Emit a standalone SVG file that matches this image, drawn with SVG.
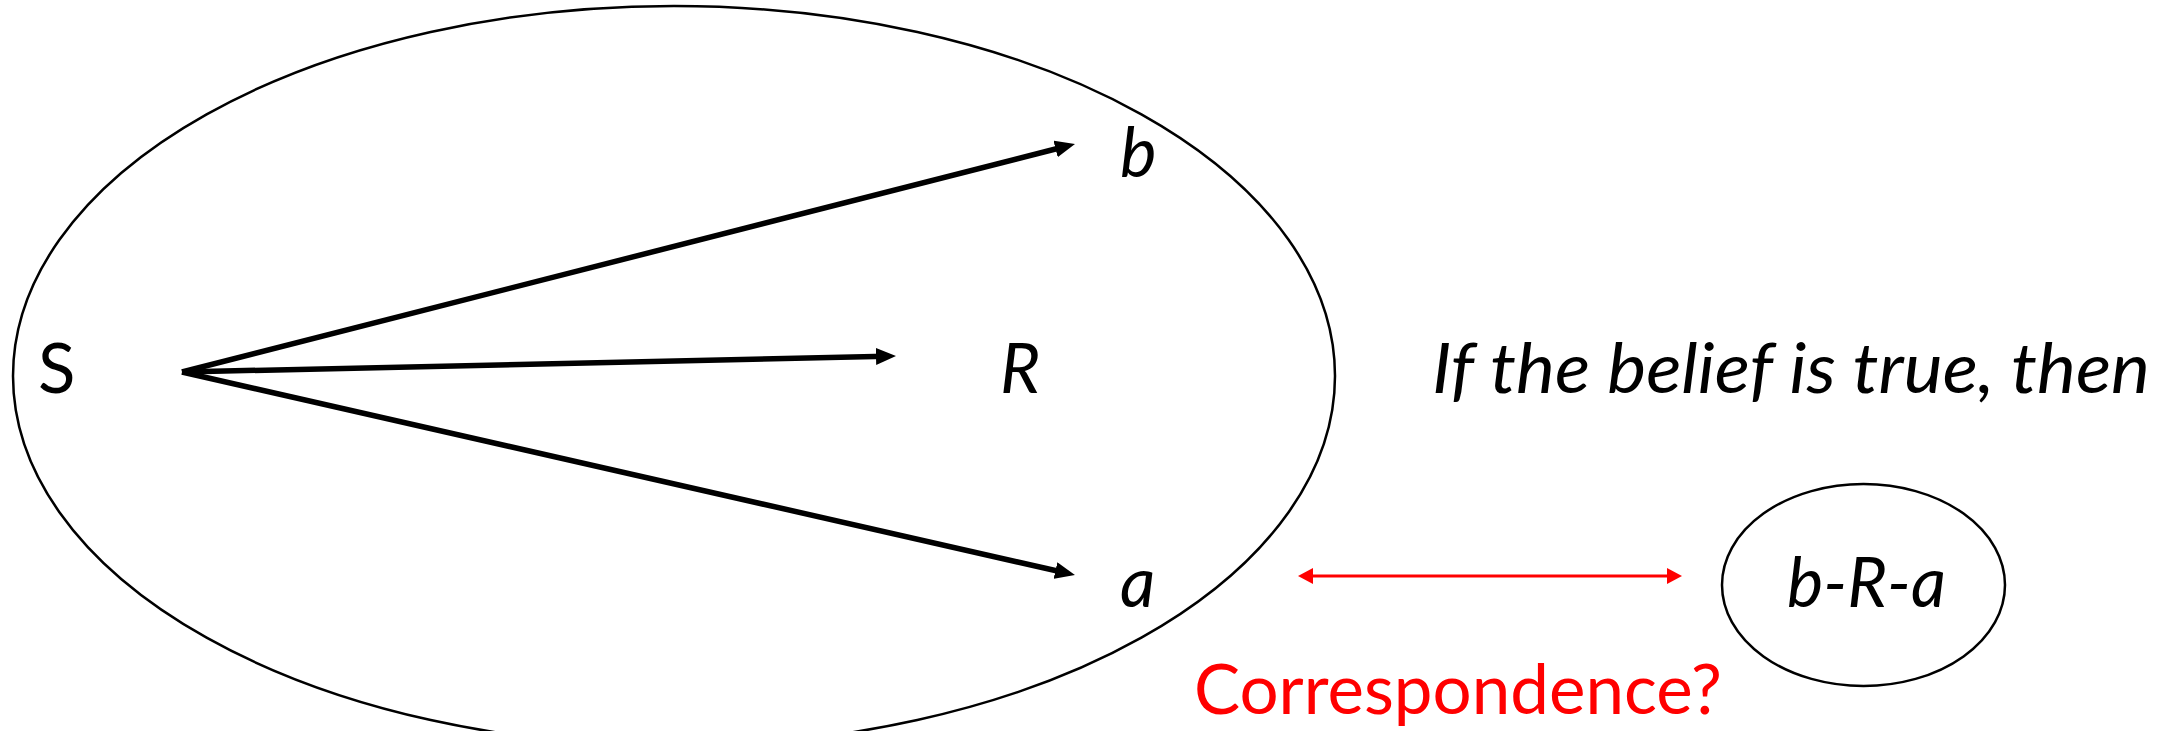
<svg xmlns="http://www.w3.org/2000/svg" width="2179" height="731" viewBox="0 0 2179 731">
<style>
.lbl{font-family:Lato,"Open Sans","Liberation Sans",sans-serif;font-size:69px;fill:#000}
.it{font-style:italic}
.red{fill:#FF0000}
.shape{fill:none;stroke:#000;stroke-width:2.5}
.arr{stroke:#000;stroke-width:5.5;fill:none}
.rarr{stroke:#FF0000;stroke-width:3;fill:none}
</style>
<defs>
<marker id="ah" markerUnits="userSpaceOnUse" markerWidth="20" markerHeight="17" refX="10" refY="8.5" orient="auto">
<path d="M0,0 L20,8.5 L0,17 z" fill="#000"/>
</marker>
<marker id="rh" markerUnits="userSpaceOnUse" markerWidth="15" markerHeight="16" refX="5" refY="8" orient="auto-start-reverse">
<path d="M0,0 L15,8 L0,16 z" fill="#FF0000"/>
</marker>
</defs>
<rect width="2179" height="731" fill="#fff"/>
<g id="belief">
<ellipse class="shape" cx="674" cy="376" rx="661" ry="370"/>
</g>
<g id="S"><text class="lbl" x="38" y="393">S</text></g>
<g id="b"><text class="lbl it" x="1120" y="177">b</text></g>
<g id="R"><text class="lbl it" x="1000" y="393">R</text></g>
<g id="a"><text class="lbl it" x="1120" y="607">a</text></g>
<g id="fact">
<ellipse class="shape" cx="1863.5" cy="585" rx="141.5" ry="101"/>
<text class="lbl it" x="1787" y="607" textLength="159" lengthAdjust="spacingAndGlyphs">b-R-a</text>
</g>
<g id="caption"><text class="lbl it" x="1432" y="393" textLength="718" lengthAdjust="spacingAndGlyphs">If the belief is true, then</text></g>
<g id="question"><text class="lbl red" x="1194" y="714" textLength="528" lengthAdjust="spacingAndGlyphs">Correspondence?</text></g>
<g id="connectors">
<line class="arr" x1="182" y1="372" x2="1065.3" y2="146.5" marker-end="url(#ah)"/>
<line class="arr" x1="182" y1="372" x2="886" y2="356.2" marker-end="url(#ah)"/>
<line class="arr" x1="182" y1="372" x2="1065.2" y2="572.8" marker-end="url(#ah)"/>
<line class="rarr" x1="1308" y1="576" x2="1672" y2="576" marker-start="url(#rh)" marker-end="url(#rh)"/>
</g>
</svg>
